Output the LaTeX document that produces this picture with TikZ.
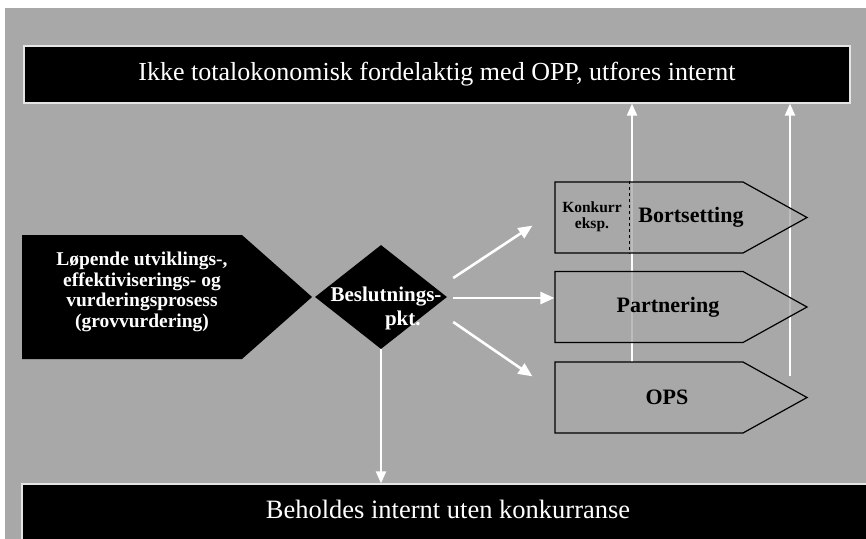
\documentclass[tikz,border=0pt]{standalone}
\usepackage{fontspec}
\setmainfont{Liberation Serif}
\usetikzlibrary{shapes.geometric, shapes.symbols, arrows.meta, positioning}
\definecolor{paper}{gray}{0.66}
\definecolor{edge}{gray}{0.9}
\tikzset{
    banner/.style={
        rectangle,
        fill=black,
        draw=edge,
        line width=1.2pt,
        inner sep=0pt
    },
    bannertext/.style={
        text=white,
        font=\fontsize{26}{30}\selectfont
    },
    process/.style={
        signal,
        signal to=east,
        signal pointer angle=83,
        fill=black,
        minimum width=290pt,
        minimum height=124pt,
        inner sep=0pt
    },
    decision/.style={
        diamond,
        fill=black,
        minimum width=132pt,
        minimum height=104pt,
        inner sep=0pt
    },
    option/.style={
        signal,
        signal to=east,
        signal pointer angle=58,
        draw=black,
        line width=1.2pt,
        fill=paper,
        fill opacity=0.75,
        minimum width=252pt,
        minimum height=71pt,
        inner sep=0pt
    },
    whitetext/.style={
        text=white,
        align=center,
        font=\bfseries\fontsize{19.5}{20.5}\selectfont
    },
    optiontext/.style={
        font=\bfseries\fontsize{22}{24}\selectfont
    },
    smalltext/.style={
        align=center,
        inner sep=0pt,
        font=\bfseries\fontsize{15.5}{16}\selectfont
    },
    flow/.style={
        draw=white,
        line width=2.6pt,
        -{Triangle[length=14pt,width=12pt]}
    },
    thinflow/.style={
        draw=white,
        line width=2pt,
        -{Triangle[length=12pt,width=10pt]}
    }
}
\begin{document}
\begin{tikzpicture}[x=1pt, y=-1pt]
\useasboundingbox (0,0) rectangle (866,538);
\fill[paper] (5,8) rectangle (880,550);

% Top and bottom bars
\node[banner, minimum width=826pt, minimum height=57pt] (topbar) at (437,74.5) {};
\node[bannertext] (toptext) at (topbar) {Ikke totalokonomisk fordelaktig med OPP, utfores internt};

\node[banner, minimum width=853pt, minimum height=64pt] (botbar) at (448.5,516) {};
\node[bannertext, font=\fontsize{26.5}{30}\selectfont] (bottext) at (448,509) {Beholdes internt uten konkurranse};

% Up arrows behind the options
\coordinate (up1) at (632,362);
\coordinate (up2) at (790,376);
\draw[thinflow] (up1) -- (up1 |- topbar.south);
\draw[thinflow] (up2) -- (up2 |- topbar.south);

% Process and decision
\node[process] (proc) at (132,297) {};
\node[whitetext] (proctext) at (142,292) {Løpende utviklings-,\\effektiviserings- og\\vurderingsprosess\\(grovvurdering)};

\node[decision] (beslut) at (381,297) {};
\node[whitetext, font=\bfseries\fontsize{21}{24}\selectfont] (besluttext) at (386,308) {Beslutnings-\\\hspace*{1.6em}pkt.};

% Options
\node[option] (bort) at (649,217.5) {};
\node[option] (part) at (649,307) {};
\node[option] (ops) at (649,397.5) {};
\draw[dashed, line width=1pt] ([xshift=75pt]bort.north west) -- ([xshift=75pt]bort.south west);
\node[smalltext] (konk) at (592,217) {Konkurr\\eksp.};
\node[optiontext] (borttext) at (691,217) {Bortsetting};
\node[optiontext] (parttext) at (668,307) {Partnering};
\node[optiontext] (opstext) at (667,397) {OPS};

% Decision flows
\draw[flow] ([shift={(6,-19)}]beslut.east) -- ([shift={(-22,-28)}]bort.south west);
\draw[flow] ([shift={(6,1)}]beslut.east) coordinate (mid) -- (mid -| part.west);
\draw[flow] ([shift={(6,25)}]beslut.east) -- ([shift={(-22,15)}]ops.north west);
\draw[thinflow] (beslut.south) -- (beslut.south |- botbar.north);

\end{tikzpicture}
\end{document}
